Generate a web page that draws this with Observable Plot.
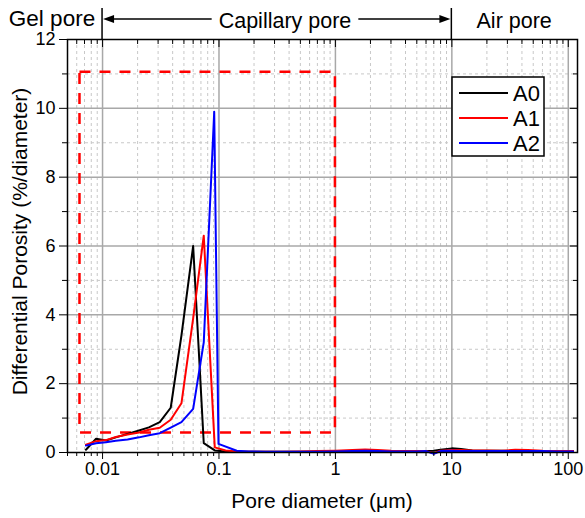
<!DOCTYPE html>
<html><head><meta charset="utf-8">
<script src="https://cdn.jsdelivr.net/npm/d3@7"></script>
<script src="https://cdn.jsdelivr.net/npm/@observablehq/plot@0.6"></script>
<style>
body{margin:0;background:#fff;}
#chart svg{display:block;}
</style>
</head><body><div id="chart"></div>
<script>
// ---- data ----
const diamA0 = [0.0072,0.0088,0.0107,0.013,0.0164,0.0206,0.025,0.031,0.0385,0.0476,0.060,0.074,0.092,0.114,0.142,0.18,0.25,0.35,0.5,0.7,1.0,1.4,1.8,2.3,3,4,5,6,7,8,10,12,15,20,27,35,45,60,80,110];
const valA0  = [0.08,0.40,0.35,0.44,0.54,0.64,0.73,0.88,1.30,3.4,6.0,0.27,0.06,0.03,0.02,0.02,0.02,0.02,0.02,0.02,0.03,0.04,0.05,0.04,0.03,0.03,0.03,0.04,0.05,0.08,0.12,0.10,0.06,0.05,0.05,0.04,0.04,0.04,0.04,0.04];
const diamA1 = [0.0072,0.0088,0.0107,0.013,0.0164,0.0206,0.025,0.031,0.0385,0.0476,0.060,0.074,0.092,0.114,0.142,0.18,0.25,0.35,0.5,0.7,1.0,1.4,1.8,2.3,3,4,5,6,7,8,10,12,15,20,27,35,45,60,80,110];
const valA1  = [0.23,0.33,0.36,0.45,0.52,0.58,0.66,0.72,0.95,1.43,3.9,6.3,0.15,0.06,0.03,0.02,0.02,0.02,0.03,0.04,0.05,0.07,0.09,0.07,0.05,0.04,0.04,0.04,-0.02,0.05,0.07,0.07,0.06,0.06,0.05,0.08,0.07,0.05,0.04,0.04];
const diamA2 = [0.0072,0.0088,0.0107,0.013,0.0164,0.0206,0.025,0.031,0.0385,0.0476,0.060,0.074,0.091,0.099,0.142,0.18,0.25,0.35,0.5,0.7,1.0,1.4,1.8,2.3,3,4,5,6,7,8,10,12,15,20,27,35,45,60,80,110];
const valA2  = [0.20,0.27,0.30,0.34,0.38,0.44,0.50,0.56,0.72,0.88,1.27,3.2,9.9,0.25,0.05,0.03,0.02,0.02,0.02,0.02,0.03,0.04,0.05,0.04,0.03,0.03,0.03,0.04,-0.04,0.04,0.05,0.04,0.04,0.04,0.04,0.04,0.04,0.04,0.03,0.03];

const seriesNames = ["A0","A1","A2"];
const seriesColors = ["#000000","#ff0000","#0000ff"];

const yMajor = [0,2,4,6,8,10,12];
const yMinor = [1,3,5,7,9,11];
const xMajor = [0.01,0.1,1,10,100];
const xTickLabels = ["0.01","0.1","1","10","100"];
const xMinorMult = [2,3,4,5,6,7,8,9];
const xDecades = [0.001,0.01,0.1,1,10,100];

// red dashed box (region of interest)
const boxX = [0.0064, 1.0];
const boxY = [0.57, 11.05];

// region header
const regionLabels = ["Gel pore","Capillary pore","Air pore"];
const regionBounds = [0.01, 10];

const xLabel = "Pore diameter (\u03bcm)";
const yLabel = "Differential Porosity (%/diameter)";

// ---- build ----
const xMinor = [];
for (const d of xDecades) for (const m of xMinorMult) {
  const v = +(d*m).toPrecision(3);
  if (v >= 0.005 && v <= 120) xMinor.push(v);
}
const rows = [];
[[diamA0,valA0],[diamA1,valA1],[diamA2,valA2]].forEach(([ds,vs],i)=>{
  ds.forEach((d,j)=>rows.push({series: seriesNames[i], d, v: vs[j]}));
});

const FONT = "Arial, 'Liberation Sans', Helvetica, sans-serif";
const W = 585, H = 518;
const blank = () => "";

const plot = Plot.plot({
  width: W, height: H,
  marginTop: 39, marginLeft: 67, marginRight: 8, marginBottom: 66,
  style: {fontFamily: FONT, fontSize: "18px", color: "#000", background: "#fff", overflow: "visible"},
  x: {type: "log", domain: [0.005, 120]},
  y: {domain: [0, 12]},
  color: {domain: seriesNames, range: seriesColors},
  marks: [
    Plot.ruleX(xMinor, {x: d=>d, stroke: "#c8c8c8", strokeWidth: 1, strokeDasharray: "3,3"}),
    Plot.ruleY(yMinor, {y: d=>d, stroke: "#c8c8c8", strokeWidth: 1, strokeDasharray: "3,3"}),
    Plot.ruleX(xMajor, {x: d=>d, stroke: "#a8a8a8", strokeWidth: 1.5}),
    Plot.ruleY(yMajor.filter(d=>d>0 && d<12), {y: d=>d, stroke: "#a8a8a8", strokeWidth: 1.5}),
    Plot.rect([{}], {x1: boxX[0], x2: boxX[1], y1: boxY[0], y2: boxY[1], fill: "none", stroke: "#ff0000", strokeWidth: 2.5, strokeDasharray: "11,9"}),
    Plot.line(rows, {x: "d", y: "v", z: "series", stroke: "series", strokeWidth: 2, curve: "linear"}),
    Plot.frame({stroke: "#000", strokeWidth: 1.5}),
    // bottom axis
    Plot.axisX({anchor: "bottom", ticks: xMajor, tickFormat: d=>xTickLabels[xMajor.indexOf(d)], tickSize: 7, tickPadding: 3, label: null, fontSize: 18}),
    Plot.axisX({anchor: "bottom", ticks: xMinor, tickSize: 4, tickFormat: blank, label: null}),
    // top axis (inward)
    Plot.axisX({anchor: "top", ticks: xMajor, tickSize: -7, tickFormat: blank, label: null}),
    Plot.axisX({anchor: "top", ticks: xMinor, tickSize: -4, tickFormat: blank, label: null}),
    // left axis
    Plot.axisY({anchor: "left", ticks: yMajor, tickSize: 8, tickPadding: 4, label: null, fontSize: 18}),
    Plot.axisY({anchor: "left", ticks: yMinor, tickSize: 5, tickFormat: blank, label: null}),
    // right axis (inward)
    Plot.axisY({anchor: "right", ticks: yMajor, tickSize: -8, tickFormat: blank, label: null}),
    Plot.axisY({anchor: "right", ticks: yMinor, tickSize: -5, tickFormat: blank, label: null})
  ]
});

document.getElementById("chart").appendChild(plot);

// ---- annotations using the plot's own scales ----
const svg = d3.select(plot);
const sx = plot.scale("x"), sy = plot.scale("y");
const X = v => sx.apply(v), Y = v => sy.apply(v);
const pTop = Y(12), pBottom = Y(0), pLeft = X(0.005), pRight = X(120);

// axis titles
svg.append("text").text(xLabel)
  .attr("x", (pLeft+pRight)/2).attr("y", 508)
  .attr("text-anchor","middle").attr("font-family",FONT).attr("font-size",21).attr("fill","#000");
svg.append("text").text(yLabel)
  .attr("transform", `translate(27,${(pTop+pBottom)/2 - 4}) rotate(-90)`)
  .attr("text-anchor","middle").attr("font-family",FONT).attr("font-size",21).attr("fill","#000");

// header
const hx0 = X(regionBounds[0]), hx1 = X(regionBounds[1]);
const hdr = svg.append("g").attr("font-family",FONT).attr("font-size",21.5).attr("fill","#000");
[hx0,hx1].forEach(x=>hdr.append("line").attr("x1",x).attr("x2",x).attr("y1",8).attr("y2",pTop).attr("stroke","#000").attr("stroke-width",1.5));
hdr.append("text").text(regionLabels[0]).attr("x",hx0/2+1).attr("y",26).attr("text-anchor","middle").attr("font-size",22.5);
const capX = 285;
const cap = hdr.append("text").text(regionLabels[1]).attr("x",capX).attr("y",28).attr("text-anchor","middle");
hdr.append("text").text(regionLabels[2]).attr("x",(hx1+pRight)/2).attr("y",28).attr("text-anchor","middle");
const cw = cap.node().getComputedTextLength();
const ay = 19;
hdr.append("line").attr("x1",hx0+10).attr("x2",capX-cw/2-7).attr("y1",ay).attr("y2",ay).attr("stroke","#000").attr("stroke-width",1.3);
hdr.append("line").attr("x1",capX+cw/2+7).attr("x2",hx1-10).attr("y1",ay).attr("y2",ay).attr("stroke","#000").attr("stroke-width",1.3);
hdr.append("path").attr("d",`M${hx0+1},${ay} L${hx0+12},${ay-4} L${hx0+12},${ay+4} Z`).attr("fill","#000");
hdr.append("path").attr("d",`M${hx1-1},${ay} L${hx1-12},${ay-4} L${hx1-12},${ay+4} Z`).attr("fill","#000");

// legend
const lg = svg.append("g").attr("font-family",FONT).attr("font-size",22).attr("text-anchor","start");
lg.append("rect").attr("x",452).attr("y",77).attr("width",92).attr("height",79).attr("fill","#fff").attr("stroke","#000").attr("stroke-width",1.5);
seriesNames.forEach((n,i)=>{
  const yy = 93 + i*25;
  lg.append("line").attr("x1",459).attr("x2",508).attr("y1",yy).attr("y2",yy).attr("stroke",seriesColors[i]).attr("stroke-width",2);
  lg.append("text").text(n).attr("x",513).attr("y",yy+8).attr("fill","#000");
});
</script>
</body></html>
